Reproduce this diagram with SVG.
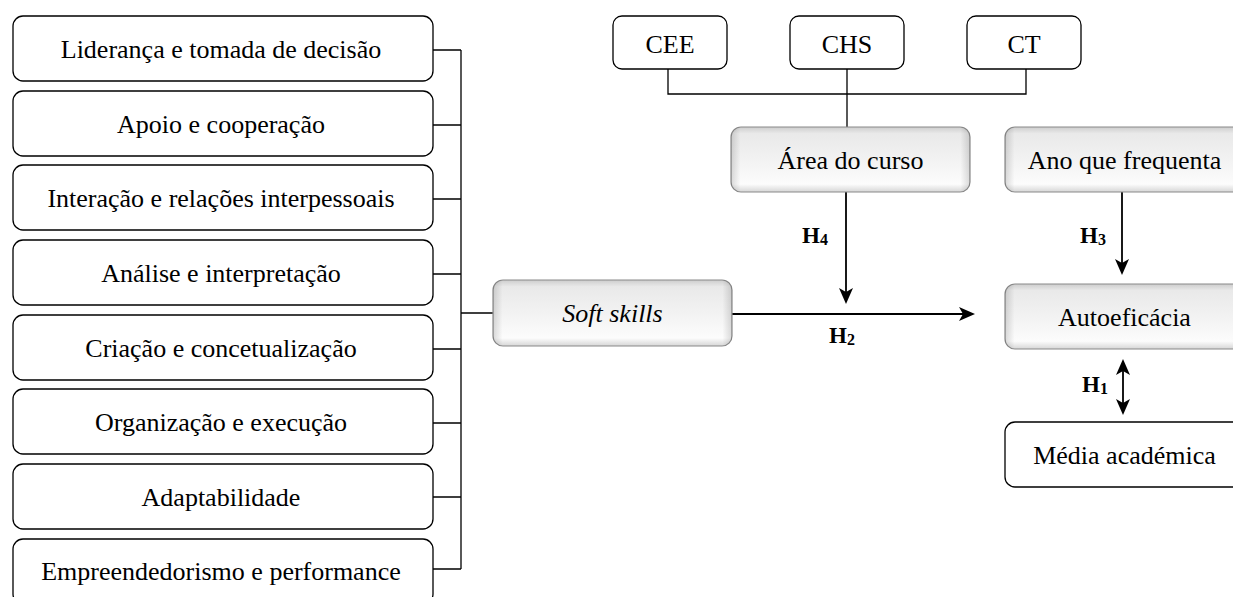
<svg xmlns="http://www.w3.org/2000/svg" width="1233" height="597" viewBox="0 0 1233 597">
<style>
.plain{fill:#fff;stroke:#000;stroke-width:1.3}
.bev{fill:url(#bevV);stroke:#8a8a8a;stroke-width:1.2}
.side{fill:url(#bevH);stroke:none}
.t{font-family:"Liberation Serif","Times New Roman",serif;font-size:26px;fill:#000;text-anchor:middle}
.h{font-family:"Liberation Serif","Times New Roman",serif;font-size:23px;font-weight:bold;fill:#000}
.sub{font-size:16px}
.c{fill:none;stroke:#000;stroke-width:1.3}
.a{fill:none;stroke:#000;stroke-width:1.8}
</style>
<defs>
<linearGradient id="bevV" x1="0" y1="0" x2="0" y2="1">
<stop offset="0" stop-color="#cdcdcd"/>
<stop offset="0.1" stop-color="#e9e9e9"/>
<stop offset="0.5" stop-color="#f2f2f2"/>
<stop offset="0.88" stop-color="#fcfcfc"/>
<stop offset="1" stop-color="#d6d6d6"/>
</linearGradient>
<linearGradient id="bevH" x1="0" y1="0" x2="1" y2="0">
<stop offset="0" stop-color="#000" stop-opacity="0.14"/>
<stop offset="0.04" stop-color="#000" stop-opacity="0"/>
<stop offset="0.96" stop-color="#000" stop-opacity="0"/>
<stop offset="1" stop-color="#000" stop-opacity="0.14"/>
</linearGradient>
<marker id="arr" viewBox="0 0 16 14" refX="12" refY="7" markerWidth="16" markerHeight="14" markerUnits="userSpaceOnUse" orient="auto-start-reverse">
<path d="M0,0 L16,7 L0,14 L4,7 z" fill="#000"/>
</marker>
</defs>

<g id="connectors">
<path class="c" d="M433,50 H461 M433,125 H461 M433,199 H461 M433,274 H461 M433,349 H461 M433,423 H461 M433,497 H461 M433,569 H461 M461,50 V569 M461,313 H493"/>
<path class="c" d="M668,69 V94 H1026 V69 M847,69 V127"/>
<line class="a" x1="732" y1="314" x2="971" y2="314" marker-end="url(#arr)" style="stroke-width:2.2"/>
<line class="a" x1="846" y1="192" x2="846" y2="300" marker-end="url(#arr)"/>
<line class="a" x1="1122" y1="192" x2="1122" y2="271" marker-end="url(#arr)"/>
<line class="a" x1="1123" y1="363" x2="1123" y2="411" marker-start="url(#arr)" marker-end="url(#arr)"/>
<text class="h" x="802" y="243">H<tspan class="sub" dy="2">4</tspan></text>
<text class="h" x="829" y="343">H<tspan class="sub" dy="2">2</tspan></text>
<text class="h" x="1080" y="243">H<tspan class="sub" dy="2">3</tspan></text>
<text class="h" x="1082" y="392">H<tspan class="sub" dy="2">1</tspan></text>
</g>

<g id="n1"><rect class="plain" x="13" y="16" width="420" height="65" rx="10"/><text class="t" x="221" y="58">Liderança e tomada de decisão</text></g>
<g id="n2"><rect class="plain" x="13" y="91" width="420" height="65" rx="10"/><text class="t" x="221" y="133">Apoio e cooperação</text></g>
<g id="n3"><rect class="plain" x="13" y="165" width="420" height="65" rx="10"/><text class="t" x="221" y="207">Interação e relações interpessoais</text></g>
<g id="n4"><rect class="plain" x="13" y="240" width="420" height="65" rx="10"/><text class="t" x="221" y="282">Análise e interpretação</text></g>
<g id="n5"><rect class="plain" x="13" y="315" width="420" height="65" rx="10"/><text class="t" x="221" y="357">Criação e concetualização</text></g>
<g id="n6"><rect class="plain" x="13" y="389" width="420" height="65" rx="10"/><text class="t" x="221" y="431">Organização e execução</text></g>
<g id="n7"><rect class="plain" x="13" y="464" width="420" height="65" rx="10"/><text class="t" x="221" y="506">Adaptabilidade</text></g>
<g id="n8"><rect class="plain" x="13" y="539" width="420" height="65" rx="10"/><text class="t" x="221" y="580">Empreendedorismo e performance</text></g>

<g id="softskills"><rect class="bev" x="493" y="280" width="239" height="66" rx="10"/><rect class="side" x="493" y="280" width="239" height="66" rx="10"/><text class="t" x="612.5" y="322" font-style="italic">Soft skills</text></g>

<g id="cee"><rect class="plain" x="613" y="16" width="114" height="53" rx="9"/><text class="t" x="670" y="53">CEE</text></g>
<g id="chs"><rect class="plain" x="790" y="16" width="114" height="53" rx="9"/><text class="t" x="847" y="53">CHS</text></g>
<g id="ct"><rect class="plain" x="967" y="16" width="114" height="53" rx="9"/><text class="t" x="1024" y="53">CT</text></g>

<g id="area"><rect class="bev" x="731" y="127" width="239" height="65" rx="10"/><rect class="side" x="731" y="127" width="239" height="65" rx="10"/><text class="t" x="850.5" y="169">Área do curso</text></g>
<g id="ano"><rect class="bev" x="1005" y="127" width="239" height="65" rx="10"/><rect class="side" x="1005" y="127" width="239" height="65" rx="10"/><text class="t" x="1124.5" y="169">Ano que frequenta</text></g>
<g id="autoeficacia"><rect class="bev" x="1005" y="284" width="239" height="65" rx="10"/><rect class="side" x="1005" y="284" width="239" height="65" rx="10"/><text class="t" x="1124.5" y="326">Autoeficácia</text></g>
<g id="media"><rect class="plain" x="1005" y="422" width="239" height="65" rx="10"/><text class="t" x="1124.5" y="464">Média académica</text></g>
</svg>
